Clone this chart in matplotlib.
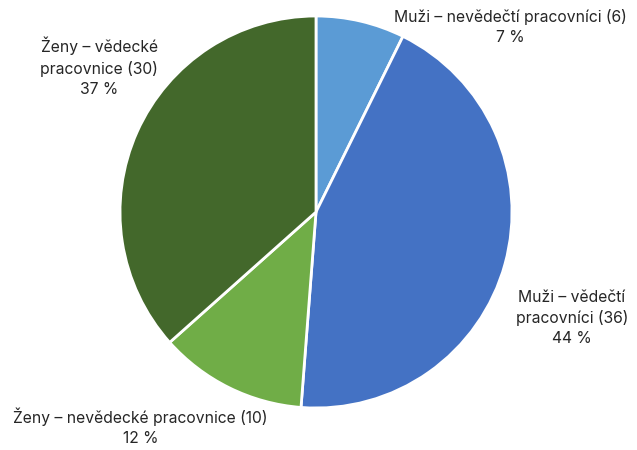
import matplotlib.pyplot as plt

plt.rcParams["font.family"] = ["Inter", "DejaVu Sans"]

categories = [
    "Muži – nevědečtí pracovníci",
    "Muži – vědečtí\npracovníci",
    "Ženy – nevědecké pracovnice",
    "Ženy – vědecké\npracovnice",
]
counts = [6, 36, 10, 30]
colors = ["#5B9BD5", "#4472C4", "#70AD47", "#43682B"]

# label centres in data units (radius = 1)
label_pos = [(0.99, 0.944), (1.305, -0.541), (-0.895, -1.097), (-1.105, 0.740)]

fig = plt.figure(figsize=(6.37, 4.5), dpi=100)
cx, cy, r = 316, 212, 196
ax = fig.add_axes([(cx - r) / 637, (450 - cy - r) / 450, 2 * r / 637, 2 * r / 450])

ax.pie(counts, colors=colors, startangle=90, counterclock=False,
       wedgeprops=dict(edgecolor="white", linewidth=2))
ax.set_xlim(-1, 1)
ax.set_ylim(-1, 1)
ax.set_aspect("equal")

total = sum(counts)
for cat, n, (x, y) in zip(categories, counts, label_pos):
    pct = round(100 * n / total)
    ax.text(x, y, f"{cat} ({n})\n{pct} %", ha="center", va="center",
            fontsize=11.3, color="#262626", linespacing=1.42, clip_on=False)

fig.savefig("out.png", dpi=100)
